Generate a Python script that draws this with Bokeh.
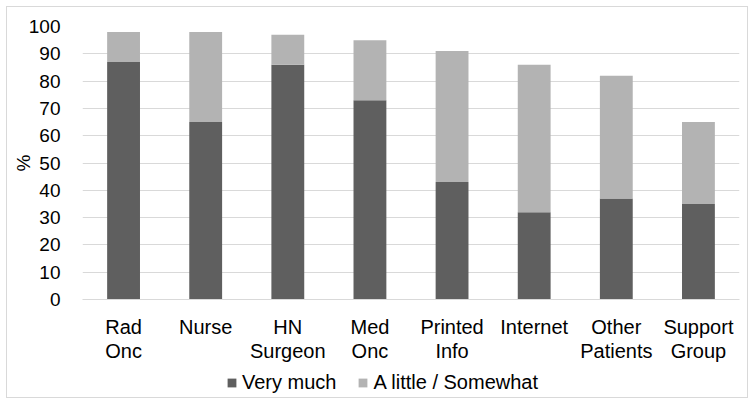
from bokeh.plotting import figure
from bokeh.layouts import column
from bokeh.models import (ColumnDataSource, Legend, LegendItem, Range1d,
                          SingleIntervalTicker, FixedTicker, LinearAxis)
from bokeh.embed import file_html
from bokeh.resources import INLINE

categories = ["Rad Onc", "Nurse", "HN Surgeon", "Med Onc", "Printed Info", "Internet", "Other Patients", "Support Group"]
label_line1 = ["Rad", "Nurse", "HN", "Med", "Printed", "Internet", "Other", "Support"]
label_line2 = ["Onc", "", "Surgeon", "Onc", "Info", "", "Patients", "Group"]
very_much = [87, 65, 86, 73, 43, 32, 37, 35]
a_little = [11, 33, 11, 22, 48, 54, 45, 30]
series_names = ["Very much", "A little / Somewhat"]
colors = ["#5f5f5f", "#b3b3b3"]

pos = list(range(len(categories)))
src = ColumnDataSource(dict(x=pos, very=very_much, little=a_little))

p = figure(x_range=Range1d(-0.5, len(categories) - 0.5), y_range=(0, 100),
           width=742, height=362, output_backend="svg", toolbar_location=None,
           min_border_left=75, min_border_right=10, min_border_top=19, min_border_bottom=70)
p.margin = (6, 0, 0, 6)

r = p.vbar_stack(["very", "little"], x="x", width=0.4, source=src, color=colors, line_color=None)

p.outline_line_color = None
p.xgrid.grid_line_color = None
p.ygrid.grid_line_color = "#d9d9d9"
p.ygrid.grid_line_width = 1
p.yaxis.ticker = SingleIntervalTicker(interval=10)
p.yaxis.axis_line_color = None
p.yaxis.major_tick_line_color = None
p.yaxis.minor_tick_line_color = None
p.yaxis.major_label_standoff = 16
p.yaxis.axis_label = "%"
p.yaxis.axis_label_text_font_style = "normal"
p.yaxis.axis_label_standoff = -8

p.xaxis.ticker = FixedTicker(ticks=pos)
p.xaxis.axis_line_color = "#d9d9d9"
p.xaxis.major_tick_line_color = None
p.xaxis.minor_tick_line_color = None
p.xaxis.major_label_overrides = dict(zip(pos, label_line1))
p.xaxis.major_label_standoff = 10

ax2 = LinearAxis(ticker=FixedTicker(ticks=pos), axis_line_color=None,
                 major_tick_line_color=None, minor_tick_line_color=None,
                 major_label_standoff=-7,
                 major_label_overrides=dict(zip(pos, label_line2)))
p.add_layout(ax2, "below")

for ax in (p.xaxis + p.yaxis):
    ax.major_label_text_font = "Liberation Sans"
    ax.major_label_text_color = "#000000"
    ax.axis_label_text_font = "Liberation Sans"
    ax.axis_label_text_font_size = "19px"
    ax.axis_label_text_color = "#000000"
for ax in p.xaxis:
    ax.major_label_text_font_size = "20px"
p.yaxis.major_label_text_font_size = "19px"

p.styles = {"border": "1px solid #d9d9d9", "border-bottom": "none", "box-sizing": "border-box"}

# legend strip (its frame is aligned with the chart's frame by the column layout)
lg = figure(width=742, height=30, output_backend="svg", toolbar_location=None,
            x_range=Range1d(0, 1), y_range=Range1d(0, 1),
            min_border_left=0, min_border_right=0, min_border_top=0, min_border_bottom=0,
            x_axis_type=None, y_axis_type=None)
lg.margin = (0, 0, 0, 6)
lg.outline_line_color = None
lg.xgrid.grid_line_color = None
lg.ygrid.grid_line_color = None
swatches = [lg.vbar(x="x", top=col, width=0.4, source=src, fill_color=c, line_color=None, visible=False)
            for col, c in zip(["very", "little"], colors)]

legend = Legend(items=[LegendItem(label=series_names[i], renderers=[swatches[i]]) for i in range(2)],
                orientation="horizontal", location=(144, 4),
                label_text_font="Liberation Sans", label_text_font_size="20px",
                label_text_color="#000000", inactive_fill_alpha=0,
                glyph_width=11, glyph_height=11, label_standoff=5, spacing=21,
                padding=0, margin=0, border_line_color=None, background_fill_alpha=0)
lg.add_layout(legend, "center")
lg.styles = {"border": "1px solid #d9d9d9", "border-top": "none", "box-sizing": "border-box"}

layout = column(p, lg, spacing=0)

open("out.html", "w").write(file_html(layout, INLINE))
